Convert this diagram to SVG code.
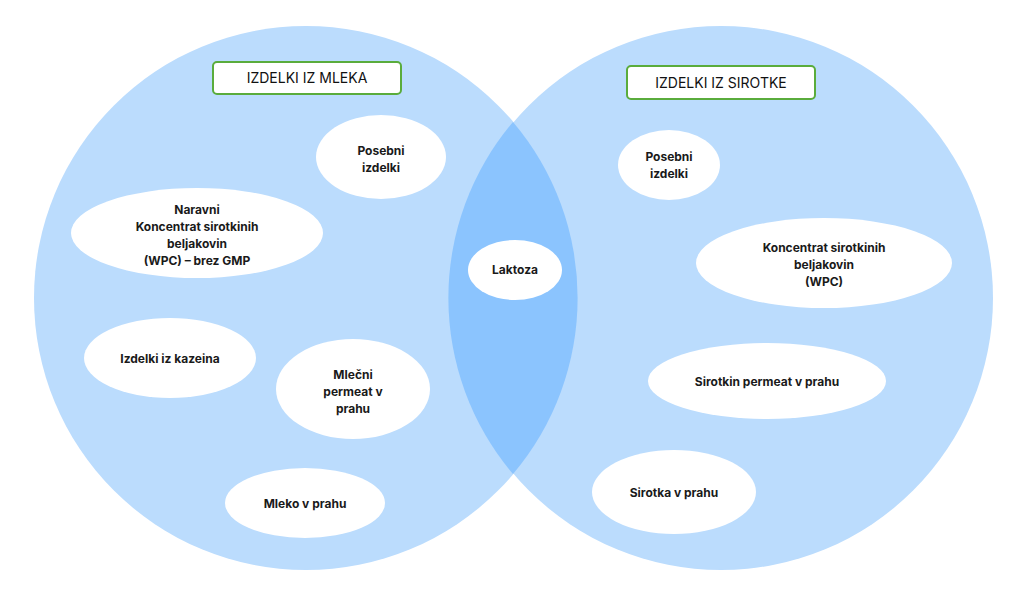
<svg xmlns="http://www.w3.org/2000/svg" width="1024" height="597" viewBox="0 0 1024 597">
<style>
.c{fill:#bbdcfd}
.n{fill:#fff}
.t{font-family:"Inter","Liberation Sans",sans-serif;font-size:12px;font-weight:bold;fill:#1a1a1a;text-anchor:middle}
.h rect{fill:#fff;stroke:#5aac3c;stroke-width:2}
.h text{font-family:"Inter","Liberation Sans",sans-serif;font-size:14px;fill:#111;text-anchor:middle}
</style>
<rect width="1024" height="597" fill="#fff"/>
<g id="sets">
<circle class="c" cx="306" cy="298" r="272"/>
<circle class="c" cx="721" cy="298" r="272"/>
<path d="M513 122 A272 272 0 0 1 513 474 A272 272 0 0 1 513 122Z" fill="#8bc4fe"/>
</g>
<g id="h1" class="h"><rect x="213" y="62" width="188" height="32" rx="4"/><text x="307" y="83">IZDELKI IZ MLEKA</text></g>
<g id="h2" class="h"><rect x="627" y="66" width="188" height="33" rx="4"/><text x="721" y="88">IZDELKI IZ SIROTKE</text></g>
<g id="n1"><ellipse class="n" cx="381" cy="157" rx="65" ry="42"/><text class="t" x="381" y="155">Posebni</text><text class="t" x="381" y="172">izdelki</text></g>
<g id="n2"><ellipse class="n" cx="197" cy="233" rx="126" ry="45"/><text class="t" x="197" y="214">Naravni</text><text class="t" x="197" y="231">Koncentrat sirotkinih</text><text class="t" x="197" y="248">beljakovin</text><text class="t" x="197" y="265">(WPC) – brez GMP</text></g>
<g id="n3"><ellipse class="n" cx="170" cy="358" rx="86" ry="40"/><text class="t" x="170" y="363">Izdelki iz kazeina</text></g>
<g id="n4"><ellipse class="n" cx="353" cy="389" rx="77" ry="50"/><text class="t" x="353" y="379">Mlečni</text><text class="t" x="353" y="396">permeat v</text><text class="t" x="353" y="413">prahu</text></g>
<g id="n5"><ellipse class="n" cx="305" cy="503" rx="80" ry="35"/><text class="t" x="305" y="508">Mleko v prahu</text></g>
<g id="n6"><ellipse class="n" cx="515" cy="270" rx="47" ry="30"/><text class="t" x="515" y="274">Laktoza</text></g>
<g id="n7"><ellipse class="n" cx="669" cy="165" rx="51" ry="35"/><text class="t" x="669" y="161">Posebni</text><text class="t" x="669" y="178">izdelki</text></g>
<g id="n8"><ellipse class="n" cx="824" cy="263" rx="128" ry="45"/><text class="t" x="824" y="252">Koncentrat sirotkinih</text><text class="t" x="824" y="269">beljakovin</text><text class="t" x="824" y="286">(WPC)</text></g>
<g id="n9"><ellipse class="n" cx="767" cy="381" rx="119" ry="38"/><text class="t" x="767" y="386">Sirotkin permeat v prahu</text></g>
<g id="n10"><ellipse class="n" cx="674" cy="492" rx="82" ry="42"/><text class="t" x="674" y="497">Sirotka v prahu</text></g>
<g id="connectors"/>
</svg>
